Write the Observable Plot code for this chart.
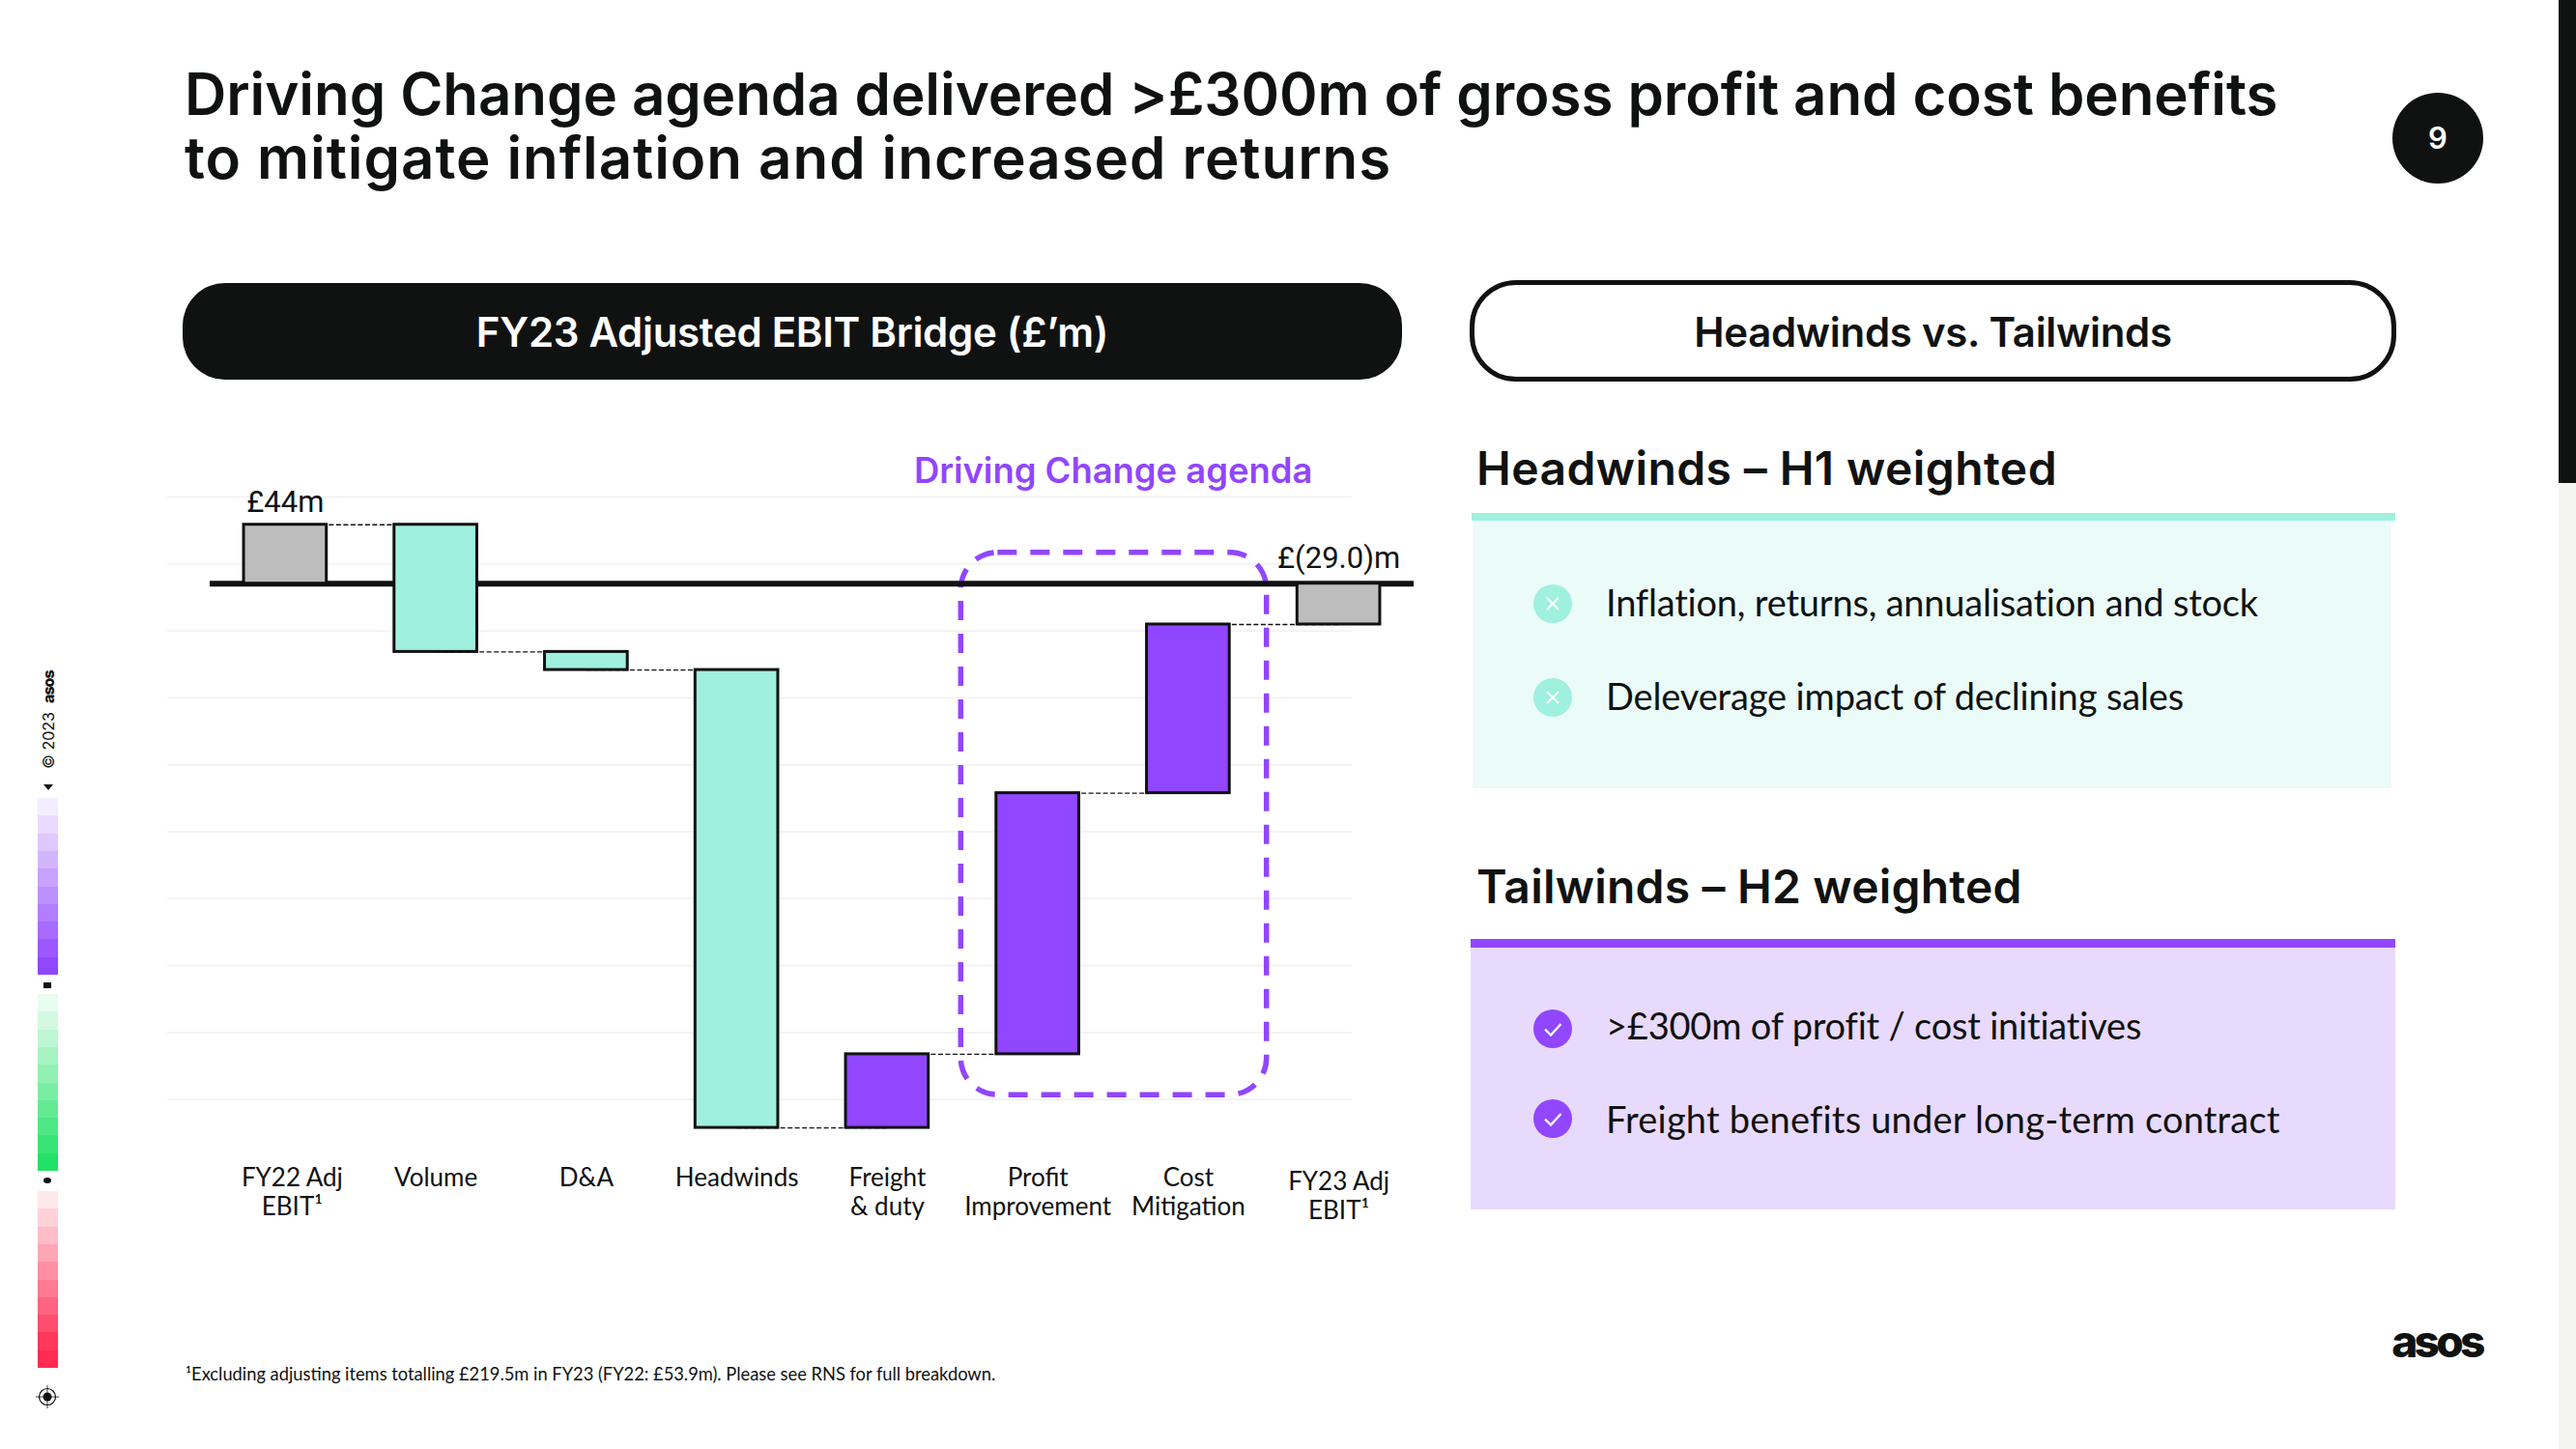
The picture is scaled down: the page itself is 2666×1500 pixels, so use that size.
<!DOCTYPE html>
<html><head><meta charset="utf-8">
<script src="https://cdn.jsdelivr.net/npm/d3@7"></script>
<script src="https://cdn.jsdelivr.net/npm/@observablehq/plot@0.6"></script>
<style>
html,body{margin:0;padding:0;background:#fff;width:2666px;height:1500px;overflow:hidden;}
body{position:relative;color:#101211;font-family:Inter,sans-serif;}
.a{position:absolute;white-space:nowrap;}
.item{font-family:"Lato";font-weight:400;font-size:38px;line-height:48px;color:#101211;}
.head{font-weight:600;font-size:48px;letter-spacing:0.2px;line-height:60px;}
</style></head><body>
<div id="root"></div>
<script>
// ---- chart values (£m)
const categories = ["FY22 Adj EBIT", "Volume", "D&A", "Headwinds", "Freight & duty", "Profit Improvement", "Cost Mitigation", "FY23 Adj EBIT"];
const barStart = [0, 44, -51, -64.5, -406.5, -351.5, -156.5, 0];
const barEnd = [44, -51, -64.5, -406.5, -351.5, -156.5, -30.5, -30.5];
const barKind = ["total", "headwind", "headwind", "headwind", "tailwind", "tailwind", "tailwind", "total"];
const kinds = ["total", "headwind", "tailwind"];
const kindColors = ["#BDBDBD", "#A0F0DF", "#9146FF"];
const gridValues = [64.7, 14.7, -35.3, -85.3, -135.3, -185.3, -235.3, -285.3, -335.3, -385.3];
const boxBottom = -382;
const boxTop = 23;
const tickLines = {
  "FY22 Adj EBIT": "FY22 Adj\nEBIT¹", "Volume": "Volume", "D&A": "D&A", "Headwinds": "Headwinds",
  "Freight & duty": "Freight\n& duty", "Profit Improvement": "Profit\nImprovement",
  "Cost Mitigation": "Cost\nMitigation", "FY23 Adj EBIT": "FY23 Adj\nEBIT¹"
};
// ---- slide text
const titleLines = ["Driving Change agenda delivered >£300m of gross profit and cost benefits", "to mitigate inflation and increased returns"];
const headwinds = ["Inflation, returns, annualisation and stock", "Deleverage impact of declining sales"];
const tailwinds = [">£300m of profit / cost initiatives", "Freight benefits under long-term contract"];
const rampPurple = ["#F4EDFF","#E9DAFF","#DEC8FF","#D3B5FF","#C8A2FF","#BD90FF","#B27DFF","#A76BFF","#9C58FF","#9146FF"];
const rampGreen = ["#E9FCF0","#D3F9E1","#BDF6D2","#A7F3C2","#91F0B3","#7AEDA4","#64EA95","#4EE785","#38E476","#22E167"];
const rampPink = ["#FFE8EC","#FFD2DA","#FFBCC8","#FFA6B6","#FF90A4","#FF7A92","#FF6480","#FF4E6E","#FF385C","#FF2C52"];

const bars = categories.map((c,i)=>({cat:c, y1:barStart[i], y2:barEnd[i], kind:barKind[i]}));
const connectors = categories.slice(0,-1).map((c,i)=>({from:c, to:categories[i+1], level:barEnd[i]}));

const ink="#101211", purple="#9146FF", mint="#A0F0DF";
const root=document.getElementById("root");
function el(css,html,cls){const d=document.createElement("div");d.className="a "+(cls||"");d.style.cssText=css;if(html!=null)d.innerHTML=html;root.appendChild(d);return d;}

// Title
titleLines.forEach((t,i)=>el(`left:191px;top:${[60,126][i]}px;font-size:60px;font-weight:600;line-height:74px;letter-spacing:${[-0.07,0.95][i]}px;`,t));
// page badge
el(`left:2476px;top:96px;width:94px;height:94px;border-radius:50%;background:${ink};color:#fff;text-align:center;line-height:94px;font-size:31px;font-weight:600;`,"9");
// right bar
el(`left:2648px;top:0;width:18px;height:500px;background:${ink};`);
el(`left:2648px;top:500px;width:18px;height:1000px;background:#F4F4F2;`);
// pills
el(`left:189px;top:293px;width:1262px;height:100px;border-radius:44px;background:${ink};color:#fff;text-align:center;line-height:102px;font-size:42px;font-weight:600;letter-spacing:-0.3px;`,"FY23 Adjusted EBIT Bridge (£’m)");
el(`left:1521px;top:290px;width:949px;height:95px;border-radius:48px;border:5px solid ${ink};text-align:center;line-height:97px;font-size:42px;font-weight:600;letter-spacing:-0.3px;`,"Headwinds vs. Tailwinds");
// headwinds
el(`left:1528px;top:455px;letter-spacing:0.4px;`,"Headwinds – H1 weighted","head");
el(`left:1524px;top:531px;width:951px;height:285px;background:#EAFBF8;`);
el(`left:1523px;top:531px;width:956px;height:8px;background:${mint};`);
const xIcon=`<svg width="40" height="40"><path d="M14 14L26 26M26 14L14 26" stroke="#fff" stroke-width="1.8" fill="none"/></svg>`;
const tick=`<svg width="40" height="40"><path d="M12 20.5L18 26.5L28.5 15" stroke="#fff" stroke-width="2.4" fill="none"/></svg>`;
[625,722].forEach((y,i)=>{el(`left:1587px;top:${y-20}px;width:40px;height:40px;border-radius:50%;background:${mint};`,xIcon);
 el(`left:1662px;top:${y-26}px;letter-spacing:${[-0.2,-0.14][i]}px;`,headwinds[i],"item");});
// tailwinds
el(`left:1528px;top:888px;`,"Tailwinds – H2 weighted","head");
el(`left:1522px;top:980px;width:957px;height:272px;background:#E8DAFD;`);
el(`left:1522px;top:972px;width:957px;height:9px;background:${purple};`);
[1065,1158].forEach((y,i)=>{el(`left:1587px;top:${y-20}px;width:40px;height:40px;border-radius:50%;background:${purple};`,tick);
 el(`left:1662px;top:${y-[28,24][i]}px;letter-spacing:${[-0.2,0.2][i]}px;`,tailwinds[i],"item");});
// footnote
el(`left:192px;top:1410px;font-family:Lato;font-size:18.3px;line-height:24px;font-weight:400;`,"¹Excluding adjusting items totalling £219.5m in FY23 (FY22: £53.9m). Please see RNS for full breakdown.");
// logo
el(`left:2473px;top:1361px;width:98px;text-align:center;font-size:46px;line-height:54px;font-weight:800;letter-spacing:-3.7px;`,"asos");
// left strip
[[826,rampPurple],[1029,rampGreen],[1233,rampPink]].forEach(([y0,r])=>r.forEach((c,i)=>el(`left:39px;top:${y0+i*18.3}px;width:20.5px;height:18.5px;background:${c};`)));
el(`left:45px;top:812px;width:0;height:0;border-left:5px solid transparent;border-right:5px solid transparent;border-top:6px solid ${ink};`);
el(`left:45px;top:1017px;width:8px;height:6px;background:${ink};`);
el(`left:45px;top:1219px;width:8px;height:6px;border-radius:50%;background:${ink};`);
el(`left:36px;top:1433px;width:26px;height:26px;`,`<svg width="26" height="26"><circle cx="13" cy="13" r="8.5" fill="none" stroke="${ink}" stroke-width="1.2"/><circle cx="13" cy="13" r="4.5" fill="${ink}"/><path d="M13 1V25M1 13H25" stroke="${ink}" stroke-width=".8"/></svg>`);
el(`left:50px;top:745px;font-size:16px;line-height:20px;transform:translate(-50%,-50%) rotate(-90deg);font-weight:400;`,`© 2023 &nbsp;<b style="font-weight:800;letter-spacing:-1px">asos</b>`);

// ---- the chart
const boxMark=(index,{x,y})=>{
  const left=x("Profit Improvement")-36.5, right=x("Cost Mitigation")+x.bandwidth()+38.5;
  return d3.create("svg:rect").attr("x",left).attr("y",y(boxTop)).attr("width",right-left).attr("height",y(boxBottom)-y(boxTop))
    .attr("rx",38).attr("fill","none").attr("stroke",purple).attr("stroke-width",5.5).attr("stroke-dasharray","20 14").node();
};
const chart=Plot.plot({
  width:1320,height:800,marginLeft:13,marginRight:81,marginTop:10,marginBottom:54,
  style:{background:"transparent",fontFamily:"Lato",fontWeight:400,fontSize:"26px",color:ink,overflow:"visible"},
  x:{type:"band",domain:categories,range:[57,1303],paddingInner:0.45,paddingOuter:0.225,align:0.5,round:false,axis:null,label:null},
  y:{domain:[70,-420],range:[66.7,745.8],axis:null,label:null},
  color:{domain:kinds,range:kindColors},
  marks:[
    Plot.ruleY(gridValues,{stroke:"#F3F3F3",strokeWidth:2}),
    boxMark,
    Plot.link(connectors,{x1:"from",x2:"to",y1:"level",y2:"level",stroke:ink,strokeWidth:1.3,strokeDasharray:"5 2.5"}),
    Plot.ruleY([0],{stroke:ink,strokeWidth:6,insetLeft:44,insetRight:-64}),
    Plot.barY(bars,{x:"cat",y1:"y1",y2:"y2",fill:"kind",stroke:ink,strokeWidth:3}),
    Plot.text(["£44m"],{x:()=>categories[0],y:()=>44,dy:-23,fill:ink,fontFamily:"Roboto",fontWeight:400,fontSize:31}),
    Plot.text(["£(29.0)m"],{x:()=>categories[7],y:()=>0,dy:-26,fill:ink,fontFamily:"Roboto",fontWeight:400,fontSize:31}),
    Plot.text(["Driving Change agenda"],{x:()=>"Profit Improvement",y:()=>83.5,dx:78,fill:purple,fontFamily:"Inter",fontWeight:600,fontSize:36.4}),
    Plot.axisX({ticks:categories.slice(1,7),tickSize:0,tickPadding:20,tickFormat:d=>tickLines[d],label:null,lineHeight:1.15}),
    Plot.axisX({ticks:categories.slice(0,1),tickSize:0,tickPadding:20,dx:7,tickFormat:d=>tickLines[d],label:null,lineHeight:1.15}),
    Plot.axisX({ticks:categories.slice(7),tickSize:0,tickPadding:24,tickFormat:d=>tickLines[d],label:null,lineHeight:1.15})
  ]
});
chart.style.position="absolute";chart.style.left="160px";chart.style.top="440px";
root.appendChild(chart);
</script></body></html>
